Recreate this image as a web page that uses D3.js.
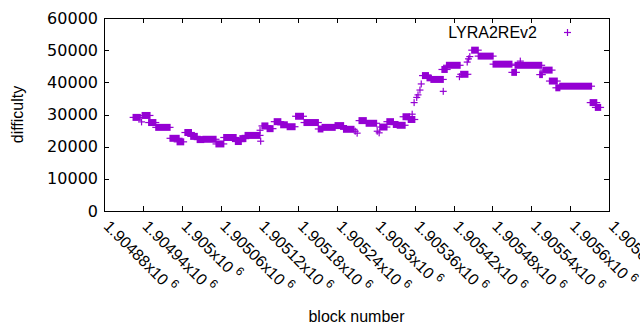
<!DOCTYPE html>
<html>
<head>
<meta charset="utf-8">
<script src="https://cdn.jsdelivr.net/npm/d3@7/dist/d3.min.js"></script>
<style>
  html, body { margin: 0; padding: 0; background: #fff; }
  svg { display: block; }
  text { font-family: "Liberation Sans", Arial, sans-serif; fill: #000; }
  text.ytick { font-family: "DejaVu Sans", sans-serif; }
</style>
</head>
<body>
<svg id="chart" width="640" height="330"></svg>
<script>
// ---- data (runs of constant difficulty; single blocks have start == end) ----
const runStart = [1904925,1904938,1904939,1904949,1904960,1904982,1904993,1905005,1905014,1905024,
  1905033,1905053,1905065,1905083,1905090,1905098,1905121,1905122,1905124,1905132,
  1905143,1905153,1905163,1905176,1905189,1905211,1905217,1905237,1905250,1905268,
  1905271,1905274,1905285,1905302,1905305,1905306,1905317,1905327,1905333,1905342,
  1905350,1905356,1905359,1905363,1905365,1905368,1905370,1905372,1905379,1905385,
  1905404,1905402,1905409,1905429,1905431,1905441,1905443,1905445,1905448,1905458,
  1905481,1905510,1905515,1905523,1905553,1905558,1905568,1905578,1905584,1905631,
  1905639];
const runEnd = [1904936,1904938,1904951,1904960,1904982,1904996,1905003,1905015,1905024,1905034,
  1905053,1905065,1905084,1905092,1905099,1905121,1905121,1905122,1905133,1905141,
  1905153,1905163,1905175,1905188,1905211,1905218,1905237,1905250,1905266,1905268,
  1905271,1905285,1905301,1905302,1905305,1905317,1905327,1905334,1905345,1905352,
  1905360,1905356,1905359,1905363,1905365,1905368,1905370,1905381,1905385,1905404,
  1905404,1905410,1905430,1905429,1905442,1905441,1905443,1905445,1905458,1905481,
  1905510,1905517,1905556,1905523,1905557,1905572,1905580,1905584,1905633,1905641,
  1905647];
const runValue = [29100,27700,29700,27500,26000,22600,21500,24400,23200,22200,
  22300,20850,22850,21600,22500,23500,25100,21700,26450,25600,
  27770,26800,26200,29450,27500,25500,26000,26550,25400,24800,
  24200,28100,27270,24800,24300,26100,27770,26900,26650,29300,
  28450,30100,33700,35300,36100,37600,39500,42100,41400,40900,
  37200,44000,45300,41750,42500,46300,47300,48000,50000,48150,
  45650,43100,45300,46600,42400,43800,40400,38300,38800,33700,
  32200];

const xTicks = [1904880,1904940,1905000,1905060,1905120,1905180,1905240,1905300,1905360,1905420,1905480,1905540,1905600,1905660];
const xTickLabels = ["1.90488","1.90494","1.905","1.90506","1.90512","1.90518","1.90524","1.9053","1.90536","1.90542","1.90548","1.90554","1.9056","1.90566"];
const yTicks = [0,10000,20000,30000,40000,50000,60000];
const yTickLabels = ["0","10000","20000","30000","40000","50000","60000"];
const seriesName = "LYRA2REv2";

// ---- layout ----
const L = 104, R = 609, T = 18, B = 211;
const color = "#9400d3";
const svg = d3.select("#chart");

const x = d3.scaleLinear().domain([1904880, 1905660]).range([L, R]);
const y = d3.scaleLinear().domain([0, 60000]).range([B, T]);

// ticks (inside, mirrored)
const tl = 5;
const g = svg.append("g").attr("stroke", "#000").attr("stroke-width", 1).attr("shape-rendering", "crispEdges");
xTicks.forEach(v => {
  const px = Math.round(x(v)) + 0.5;
  g.append("line").attr("x1", px).attr("x2", px).attr("y1", B).attr("y2", B - tl);
  g.append("line").attr("x1", px).attr("x2", px).attr("y1", T).attr("y2", T + tl);
});
yTicks.forEach(v => {
  const py = Math.round(y(v)) + 0.5;
  g.append("line").attr("x1", L).attr("x2", L + tl).attr("y1", py).attr("y2", py);
  g.append("line").attr("x1", R).attr("x2", R - tl).attr("y1", py).attr("y2", py);
});
g.append("rect").attr("x", L + 0.5).attr("y", T + 0.5).attr("width", R - L).attr("height", B - T)
  .attr("fill", "none");

// y tick labels
yTicks.forEach((v, i) => {
  svg.append("text").attr("class", "ytick").attr("x", L - 6).attr("y", y(v)).attr("text-anchor", "end")
    .attr("dominant-baseline", "central").attr("font-size", 16).text(yTickLabels[i]);
});

// x tick labels (rotated)
xTicks.forEach((v, i) => {
  const px = x(v) + 3, py = B + 12;
  const t = svg.append("text").attr("transform", `translate(${px},${py}) rotate(45)`)
    .attr("text-anchor", "start").attr("dominant-baseline", "central").attr("font-size", 16);
  t.append("tspan").text(xTickLabels[i] + "x10");
  t.append("tspan").attr("dx", 4).attr("dy", -5).attr("font-size", 12).text("6");
});

// axis titles
svg.append("text").attr("transform", `translate(17,${(T + B) / 2}) rotate(-90)`)
  .attr("text-anchor", "middle").attr("dominant-baseline", "central").attr("font-size", 16).text("difficulty");
svg.append("text").attr("x", (L + R) / 2).attr("y", 316).attr("text-anchor", "middle")
  .attr("dominant-baseline", "central").attr("font-size", 16).text("block number");

// points: '+' markers; a run of consecutive blocks merges into a bar
const h = 3.5, lw = 1.2;
const runs = runStart.map((s, i) => ({ s, e: runEnd[i], v: runValue[i] }));
const pg = svg.append("g").attr("fill", color);
runs.forEach(d => {
  const x0 = x(d.s), x1 = x(d.e), py = y(d.v);
  pg.append("rect").attr("x", x0 - h).attr("y", py - lw / 2).attr("width", x1 - x0 + 2 * h).attr("height", lw);
  pg.append("rect").attr("x", x0 - lw / 2).attr("y", py - h).attr("width", x1 - x0 + lw).attr("height", 2 * h);
});

// legend
svg.append("text").attr("x", 537).attr("y", 32).attr("text-anchor", "end")
  .attr("dominant-baseline", "central").attr("font-size", 16).text(seriesName);
const lx = 567.5, ly = 32.5;
svg.append("rect").attr("x", lx - h).attr("y", ly - lw / 2).attr("width", 2 * h).attr("height", lw).attr("fill", color);
svg.append("rect").attr("x", lx - lw / 2).attr("y", ly - h).attr("width", lw).attr("height", 2 * h).attr("fill", color);
</script>
</body>
</html>
